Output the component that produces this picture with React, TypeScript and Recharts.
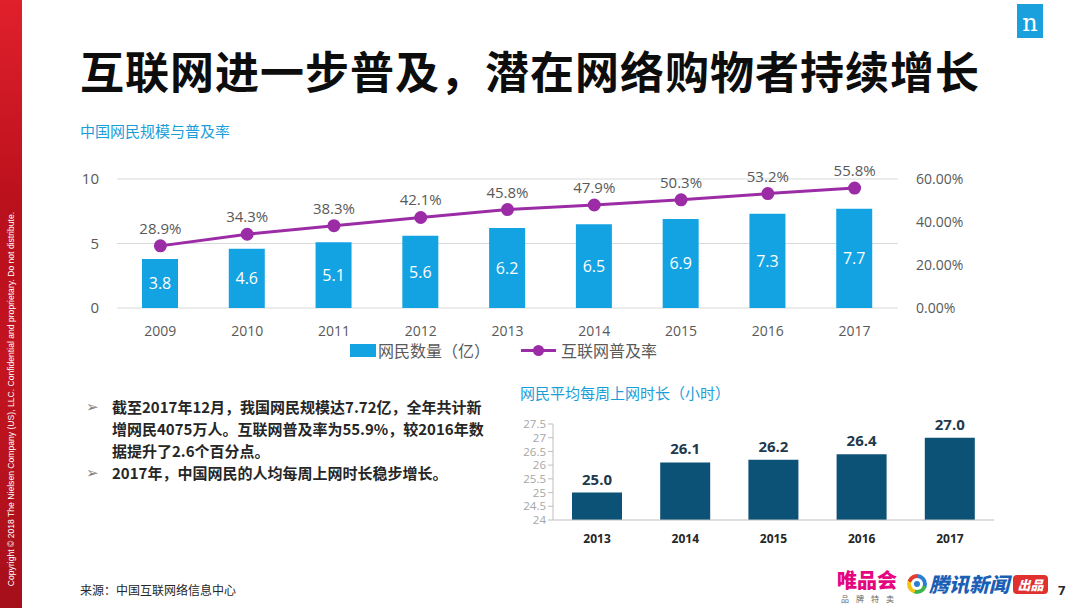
import React from "react";
import {
  ComposedChart,
  BarChart,
  Bar,
  Line,
  XAxis,
  YAxis,
  CartesianGrid,
  LabelList,
} from "recharts";

const years = ["2009", "2010", "2011", "2012", "2013", "2014", "2015", "2016", "2017"];
const netizens = [3.8, 4.6, 5.1, 5.6, 6.2, 6.5, 6.9, 7.3, 7.7];
const penetration = [28.9, 34.3, 38.3, 42.1, 45.8, 47.9, 50.3, 53.2, 55.8];
const leftTicks = [0, 5, 10];
const rightTicks = [0, 20, 40, 60];

const hourYears = ["2013", "2014", "2015", "2016", "2017"];
const weeklyHours = [25.0, 26.1, 26.2, 26.4, 27.0];
const hourTicks = [24, 24.5, 25, 25.5, 26, 26.5, 27, 27.5];

const BLUE = "#14a3e2";
const PURPLE = "#9b2ca6";
const NAVY = "#0c5176";
const GREY = "#595959";
const FONT = '"Open Sans", "Noto Sans CJK SC", sans-serif';
const CJK = '"Noto Sans CJK SC", sans-serif';

const mainData = years.map((y, i) => ({ year: y, users: netizens[i], rate: penetration[i] }));
const hourData = hourYears.map((y, i) => ({ year: y, hours: weeklyHours[i] }));

const abs = (left: number, top: number, extra: React.CSSProperties = {}): React.CSSProperties => ({
  position: "absolute",
  left,
  top,
  ...extra,
});

function MainChart() {
  return (
    <ComposedChart
      width={930}
      height={215}
      data={mainData}
      margin={{ top: 29, right: 12, left: 0, bottom: 27 }}
      style={abs(60, 150)}
    >
      <CartesianGrid yAxisId="left" vertical={false} stroke="#d9d9d9" />
      <XAxis
        dataKey="year"
        axisLine={false}
        tickLine={false}
        height={30}
        tickMargin={12}
        tick={{ fontSize: 14, fill: GREY, fontFamily: FONT }}
      />
      <YAxis
        yAxisId="left"
        width={57}
        domain={[0, 10]}
        ticks={leftTicks}
        axisLine={false}
        tickLine={false}
        tickMargin={12}
        tick={{ fontSize: 15, fill: GREY, fontFamily: FONT }}
      />
      <YAxis
        yAxisId="right"
        orientation="right"
        width={80}
        domain={[0, 60]}
        ticks={rightTicks}
        axisLine={false}
        tickLine={false}
        tickMargin={12}
        tickFormatter={(v: number) => `${v.toFixed(2)}%`}
        tick={{ fontSize: 14, fill: GREY, fontFamily: FONT }}
      />
      <Bar yAxisId="left" dataKey="users" fill={BLUE} barSize={36} isAnimationActive={false}>
        <LabelList
          dataKey="users"
          position="center"
          fill="#ffffff"
          fontSize={16}
          fontFamily={FONT}
          formatter={(v: number) => v.toFixed(1)}
        />
      </Bar>
      <Line
        yAxisId="right"
        dataKey="rate"
        stroke={PURPLE}
        strokeWidth={3}
        dot={{ r: 5, fill: PURPLE, stroke: PURPLE }}
        isAnimationActive={false}
      >
        <LabelList
          dataKey="rate"
          position="top"
          offset={12}
          fill={GREY}
          fontSize={15}
          fontFamily={FONT}
          formatter={(v: number) => `${v.toFixed(1)}%`}
        />
      </Line>
    </ComposedChart>
  );
}

function HoursChart() {
  return (
    <BarChart
      width={510}
      height={150}
      data={hourData}
      margin={{ top: 24, right: 16, left: 3, bottom: 0 }}
      style={abs(500, 400)}
    >
      <XAxis
        dataKey="year"
        height={30}
        stroke="#bfbfbf"
        tickLine={false}
        tickMargin={8}
        tick={{ fontSize: 12, fill: "#262626", fontWeight: 700, fontFamily: FONT }}
      />
      <YAxis
        width={50}
        domain={[24, 27.5]}
        ticks={hourTicks}
        interval={0}
        stroke="#bfbfbf"
        tickSize={5}
        tickMargin={2}
        tick={{ fontSize: 11.5, fill: "#a6a6a6", fontFamily: FONT }}
      />
      <Bar dataKey="hours" fill={NAVY} barSize={50} isAnimationActive={false}>
        <LabelList
          dataKey="hours"
          position="top"
          offset={8}
          fill="#1f3a4d"
          fontSize={15}
          fontWeight={700}
          fontFamily={FONT}
          formatter={(v: number) => v.toFixed(1)}
        />
      </Bar>
    </BarChart>
  );
}

export default function App() {
  return (
    <div
      style={{
        position: "absolute",
        left: 0,
        top: 0,
        width: 1080,
        height: 608,
        background: "#ffffff",
        overflow: "hidden",
        fontFamily: CJK,
      }}
    >
      {/* red band with copyright */}
      <div
        style={abs(0, 0, {
          width: 22,
          height: 608,
          background: "linear-gradient(180deg, #e0202b 0%, #b8101c 35%, #c41420 60%, #a50f1a 100%)",
        })}
      />
      <div
        style={abs(11, 399, {
          width: 420,
          marginLeft: -210,
          marginTop: -5,
          transform: "rotate(-90deg)",
          color: "#ffffff",
          fontSize: 8.6,
          fontFamily: '"Liberation Sans", Arial, sans-serif',
          textAlign: "center",
          whiteSpace: "nowrap",
          lineHeight: "10px",
        })}
      >
        Copyright © 2018 The Nielsen Company (US), LLC. Confidential and proprietary. Do not distribute.
      </div>

      {/* nielsen logo */}
      <div
        style={abs(1017, 4, {
          width: 26,
          height: 34,
          background: "#1aa0dc",
          color: "#ffffff",
          fontFamily: '"DejaVu Serif", serif',
          fontSize: 24,
          textAlign: "center",
          lineHeight: "38px",
        })}
      >
        n
      </div>

      <div
        style={abs(80, 42, {
          fontSize: 44,
          fontWeight: 700,
          color: "#0d0d0d",
          letterSpacing: 1,
          whiteSpace: "nowrap",
          lineHeight: "56px",
        })}
      >
        互联网进一步普及，潜在网络购物者持续增长
      </div>

      <div style={abs(80, 120, { fontSize: 15, color: "#1a9ed9", lineHeight: "22px" })}>
        中国网民规模与普及率
      </div>

      <MainChart />

      {/* legend */}
      <div style={abs(350, 344, { width: 26, height: 13, background: BLUE })} />
      <div style={abs(378, 339, { fontSize: 16, color: GREY, lineHeight: "22px", whiteSpace: "nowrap" })}>
        网民数量（亿）
      </div>
      <div style={abs(521, 349, { width: 35, height: 3, background: PURPLE })} />
      <div style={abs(533, 345, { width: 11, height: 11, borderRadius: "50%", background: PURPLE })} />
      <div style={abs(561, 339, { fontSize: 16, color: GREY, lineHeight: "22px", whiteSpace: "nowrap" })}>
        互联网普及率
      </div>

      {/* bullets */}
      <div style={abs(86, 396, { fontSize: 15, color: "#262626", fontWeight: 700, lineHeight: "22px" })}>
        {[
          ["➢", "截至2017年12月，我国网民规模达7.72亿，全年共计新"],
          ["", "增网民4075万人。互联网普及率为55.9%，较2016年数"],
          ["", "据提升了2.6个百分点。"],
          ["➢", "2017年，中国网民的人均每周上网时长稳步增长。"],
        ].map(([mark, text], i) => (
          <div key={i} style={{ position: "relative", height: 22, whiteSpace: "nowrap" }}>
            <span
              style={{
                position: "absolute",
                left: 0,
                fontFamily: '"DejaVu Sans", sans-serif',
                fontWeight: 400,
                color: "#7f7f7f",
                fontSize: 15,
              }}
            >
              {mark}
            </span>
            <span style={{ position: "absolute", left: 26 }}>{text}</span>
          </div>
        ))}
      </div>

      <div style={abs(520, 382, { fontSize: 15, color: "#1a9ed9", lineHeight: "22px", whiteSpace: "nowrap" })}>
        网民平均每周上网时长（小时）
      </div>

      <HoursChart />

      <div style={abs(80, 581, { fontSize: 12, color: "#262626", lineHeight: "18px" })}>
        来源：中国互联网络信息中心
      </div>

      {/* bottom logos */}
      <div
        style={abs(837, 568, {
          fontSize: 20,
          fontWeight: 900,
          color: "#e4077f",
          lineHeight: "24px",
          whiteSpace: "nowrap",
        })}
      >
        唯品会
      </div>
      <div
        style={abs(841, 594, { fontSize: 8, color: "#666666", letterSpacing: 7, lineHeight: "10px", whiteSpace: "nowrap" })}
      >
        品牌特卖
      </div>
      <div
        style={abs(907, 574, {
          width: 20,
          height: 20,
          borderRadius: "50%",
          background: "conic-gradient(#2a7fd4 0 30%, #3fb44a 30% 55%, #f5c316 55% 80%, #e43a2f 80% 100%)",
        })}
      />
      <div style={abs(911, 578, { width: 12, height: 12, borderRadius: "50%", background: "#ffffff" })} />
      <div style={abs(914, 581, { width: 6, height: 6, borderRadius: "50%", background: "#2a7fd4" })} />
      <div
        style={abs(929, 571, {
          fontSize: 20,
          fontWeight: 900,
          fontStyle: "italic",
          color: "#1b5fb5",
          lineHeight: "26px",
          whiteSpace: "nowrap",
        })}
      >
        腾讯新闻
      </div>
      <div
        style={abs(1013, 575, {
          width: 35,
          height: 19,
          borderRadius: 4,
          background: "#e0312f",
          color: "#ffffff",
          fontSize: 13,
          fontWeight: 900,
          textAlign: "center",
          lineHeight: "19px",
          fontStyle: "italic",
        })}
      >
        出品
      </div>
      <div style={abs(1058, 581, { fontSize: 13, fontWeight: 700, color: "#262626", fontFamily: FONT, lineHeight: "18px" })}>
        7
      </div>
    </div>
  );
}
